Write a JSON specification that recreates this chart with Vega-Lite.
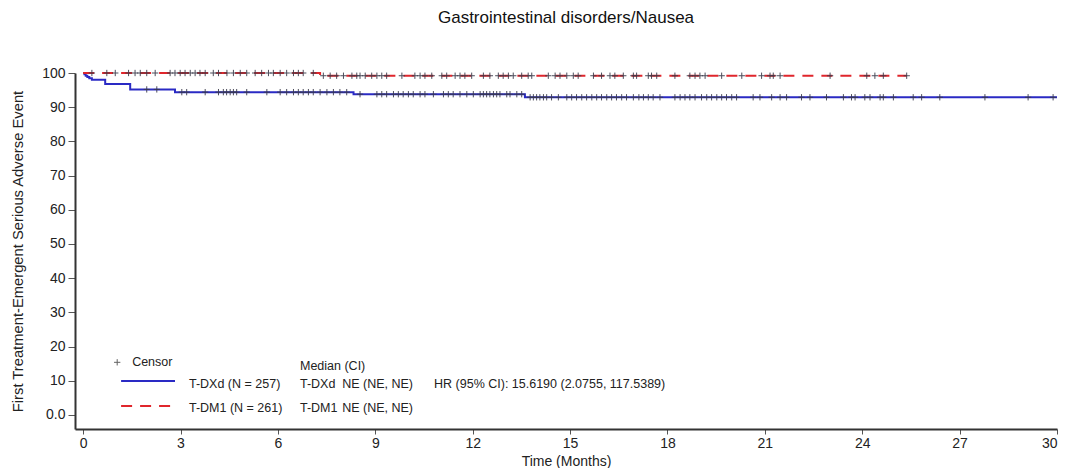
{
  "$schema": "https://vega.github.io/schema/vega-lite/v6.json",
  "autosize": {"type": "none"},
  "width": 982,
  "height": 356,
  "padding": {"left": 75, "top": 73, "right": 14, "bottom": 39},
  "background": "white",
  "config": {
    "font": "Liberation Sans",
    "view": {"stroke": null},
    "axis": {
      "grid": false,
      "domainColor": "#333333",
      "domainWidth": 2,
      "tickColor": "#555555",
      "labelColor": "#222222",
      "titleColor": "#222222",
      "labelFont": "Liberation Sans",
      "titleFont": "Liberation Sans",
      "labelFontSize": 14,
      "titleFontSize": 14,
      "titleFontWeight": "normal",
      "labelOverlap": false
    }
  },
  "title": {
    "text": "Gastrointestinal disorders/Nausea",
    "fontSize": 17,
    "fontWeight": "normal",
    "font": "Liberation Sans",
    "color": "#111111",
    "anchor": "middle",
    "frame": "group",
    "offset": 39
  },
  "datasets": {
    "curves": [
      {"arm": "T-DXd", "t": 0, "s": 100},
      {"arm": "T-DXd", "t": 0.04, "s": 99.61},
      {"arm": "T-DXd", "t": 0.08, "s": 99.22},
      {"arm": "T-DXd", "t": 0.13, "s": 98.83},
      {"arm": "T-DXd", "t": 0.19, "s": 98.44},
      {"arm": "T-DXd", "t": 0.27, "s": 98.05},
      {"arm": "T-DXd", "t": 0.68, "s": 96.8},
      {"arm": "T-DXd", "t": 1.45, "s": 95.2},
      {"arm": "T-DXd", "t": 2.83, "s": 94.4},
      {"arm": "T-DXd", "t": 8.33, "s": 93.8},
      {"arm": "T-DXd", "t": 13.61, "s": 92.9},
      {"arm": "T-DXd", "t": 30, "s": 92.9},
      {"arm": "T-DM1", "t": 0, "s": 100},
      {"arm": "T-DM1", "t": 7.3, "s": 99.2},
      {"arm": "T-DM1", "t": 25.37, "s": 99.2}
    ],
    "censors": [
      {"arm": "T-DXd", "t": 1.96, "s": 95.2}, {"arm": "T-DXd", "t": 2.27, "s": 95.2},
      {"arm": "T-DXd", "t": 3.04, "s": 94.4}, {"arm": "T-DXd", "t": 3.19, "s": 94.4},
      {"arm": "T-DXd", "t": 3.76, "s": 94.4}, {"arm": "T-DXd", "t": 4.17, "s": 94.4},
      {"arm": "T-DXd", "t": 4.32, "s": 94.4}, {"arm": "T-DXd", "t": 4.42, "s": 94.4},
      {"arm": "T-DXd", "t": 4.53, "s": 94.4}, {"arm": "T-DXd", "t": 4.63, "s": 94.4},
      {"arm": "T-DXd", "t": 4.73, "s": 94.4}, {"arm": "T-DXd", "t": 5.04, "s": 94.4},
      {"arm": "T-DXd", "t": 5.66, "s": 94.4}, {"arm": "T-DXd", "t": 6.07, "s": 94.4},
      {"arm": "T-DXd", "t": 6.27, "s": 94.4}, {"arm": "T-DXd", "t": 6.48, "s": 94.4},
      {"arm": "T-DXd", "t": 6.63, "s": 94.4}, {"arm": "T-DXd", "t": 6.78, "s": 94.4},
      {"arm": "T-DXd", "t": 6.94, "s": 94.4}, {"arm": "T-DXd", "t": 7.09, "s": 94.4},
      {"arm": "T-DXd", "t": 7.3, "s": 94.4}, {"arm": "T-DXd", "t": 7.51, "s": 94.4},
      {"arm": "T-DXd", "t": 7.71, "s": 94.4}, {"arm": "T-DXd", "t": 7.91, "s": 94.4},
      {"arm": "T-DXd", "t": 8.12, "s": 94.4},
      {"arm": "T-DXd", "t": 8.53, "s": 93.8}, {"arm": "T-DXd", "t": 9.05, "s": 93.8},
      {"arm": "T-DXd", "t": 9.2, "s": 93.8}, {"arm": "T-DXd", "t": 9.35, "s": 93.8},
      {"arm": "T-DXd", "t": 9.56, "s": 93.8}, {"arm": "T-DXd", "t": 9.71, "s": 93.8},
      {"arm": "T-DXd", "t": 9.86, "s": 93.8}, {"arm": "T-DXd", "t": 10.02, "s": 93.8},
      {"arm": "T-DXd", "t": 10.17, "s": 93.8}, {"arm": "T-DXd", "t": 10.38, "s": 93.8},
      {"arm": "T-DXd", "t": 10.53, "s": 93.8}, {"arm": "T-DXd", "t": 10.79, "s": 93.8},
      {"arm": "T-DXd", "t": 11.1, "s": 93.8}, {"arm": "T-DXd", "t": 11.25, "s": 93.8},
      {"arm": "T-DXd", "t": 11.4, "s": 93.8}, {"arm": "T-DXd", "t": 11.61, "s": 93.8},
      {"arm": "T-DXd", "t": 11.82, "s": 93.8}, {"arm": "T-DXd", "t": 12.02, "s": 93.8},
      {"arm": "T-DXd", "t": 12.23, "s": 93.8}, {"arm": "T-DXd", "t": 12.33, "s": 93.8},
      {"arm": "T-DXd", "t": 12.43, "s": 93.8}, {"arm": "T-DXd", "t": 12.53, "s": 93.8},
      {"arm": "T-DXd", "t": 12.64, "s": 93.8}, {"arm": "T-DXd", "t": 12.74, "s": 93.8},
      {"arm": "T-DXd", "t": 12.84, "s": 93.8}, {"arm": "T-DXd", "t": 13.05, "s": 93.8},
      {"arm": "T-DXd", "t": 13.15, "s": 93.8}, {"arm": "T-DXd", "t": 13.36, "s": 93.8},
      {"arm": "T-DXd", "t": 13.51, "s": 93.8},
      {"arm": "T-DXd", "t": 13.77, "s": 92.9}, {"arm": "T-DXd", "t": 13.87, "s": 92.9},
      {"arm": "T-DXd", "t": 13.97, "s": 92.9}, {"arm": "T-DXd", "t": 14.07, "s": 92.9},
      {"arm": "T-DXd", "t": 14.18, "s": 92.9}, {"arm": "T-DXd", "t": 14.28, "s": 92.9},
      {"arm": "T-DXd", "t": 14.43, "s": 92.9}, {"arm": "T-DXd", "t": 14.64, "s": 92.9},
      {"arm": "T-DXd", "t": 14.9, "s": 92.9}, {"arm": "T-DXd", "t": 15.05, "s": 92.9},
      {"arm": "T-DXd", "t": 15.2, "s": 92.9}, {"arm": "T-DXd", "t": 15.36, "s": 92.9},
      {"arm": "T-DXd", "t": 15.51, "s": 92.9}, {"arm": "T-DXd", "t": 15.67, "s": 92.9},
      {"arm": "T-DXd", "t": 15.82, "s": 92.9}, {"arm": "T-DXd", "t": 15.97, "s": 92.9},
      {"arm": "T-DXd", "t": 16.13, "s": 92.9}, {"arm": "T-DXd", "t": 16.28, "s": 92.9},
      {"arm": "T-DXd", "t": 16.43, "s": 92.9}, {"arm": "T-DXd", "t": 16.59, "s": 92.9},
      {"arm": "T-DXd", "t": 16.74, "s": 92.9}, {"arm": "T-DXd", "t": 16.95, "s": 92.9},
      {"arm": "T-DXd", "t": 17.12, "s": 92.9}, {"arm": "T-DXd", "t": 17.26, "s": 92.9},
      {"arm": "T-DXd", "t": 17.41, "s": 92.9}, {"arm": "T-DXd", "t": 17.56, "s": 92.9},
      {"arm": "T-DXd", "t": 17.77, "s": 92.9}, {"arm": "T-DXd", "t": 18.23, "s": 92.9},
      {"arm": "T-DXd", "t": 18.39, "s": 92.9}, {"arm": "T-DXd", "t": 18.54, "s": 92.9},
      {"arm": "T-DXd", "t": 18.69, "s": 92.9}, {"arm": "T-DXd", "t": 18.85, "s": 92.9},
      {"arm": "T-DXd", "t": 19.05, "s": 92.9}, {"arm": "T-DXd", "t": 19.21, "s": 92.9},
      {"arm": "T-DXd", "t": 19.36, "s": 92.9}, {"arm": "T-DXd", "t": 19.52, "s": 92.9},
      {"arm": "T-DXd", "t": 19.67, "s": 92.9}, {"arm": "T-DXd", "t": 19.82, "s": 92.9},
      {"arm": "T-DXd", "t": 19.98, "s": 92.9}, {"arm": "T-DXd", "t": 20.13, "s": 92.9},
      {"arm": "T-DXd", "t": 20.64, "s": 92.9}, {"arm": "T-DXd", "t": 20.85, "s": 92.9},
      {"arm": "T-DXd", "t": 21.21, "s": 92.9}, {"arm": "T-DXd", "t": 21.47, "s": 92.9},
      {"arm": "T-DXd", "t": 21.67, "s": 92.9}, {"arm": "T-DXd", "t": 22.13, "s": 92.9},
      {"arm": "T-DXd", "t": 22.39, "s": 92.9}, {"arm": "T-DXd", "t": 22.9, "s": 92.9},
      {"arm": "T-DXd", "t": 23.42, "s": 92.9}, {"arm": "T-DXd", "t": 23.67, "s": 92.9},
      {"arm": "T-DXd", "t": 23.78, "s": 92.9}, {"arm": "T-DXd", "t": 24.08, "s": 92.9},
      {"arm": "T-DXd", "t": 24.24, "s": 92.9}, {"arm": "T-DXd", "t": 24.55, "s": 92.9},
      {"arm": "T-DXd", "t": 24.65, "s": 92.9}, {"arm": "T-DXd", "t": 24.96, "s": 92.9},
      {"arm": "T-DXd", "t": 25.57, "s": 92.9}, {"arm": "T-DXd", "t": 25.83, "s": 92.9},
      {"arm": "T-DXd", "t": 26.39, "s": 92.9}, {"arm": "T-DXd", "t": 27.78, "s": 92.9},
      {"arm": "T-DXd", "t": 29.11, "s": 92.9}, {"arm": "T-DXd", "t": 29.88, "s": 92.9},
      {"arm": "T-DM1", "t": 0.27, "s": 100}, {"arm": "T-DM1", "t": 0.73, "s": 100},
      {"arm": "T-DM1", "t": 0.99, "s": 100}, {"arm": "T-DM1", "t": 1.4, "s": 100},
      {"arm": "T-DM1", "t": 1.6, "s": 100}, {"arm": "T-DM1", "t": 1.76, "s": 100},
      {"arm": "T-DM1", "t": 1.96, "s": 100}, {"arm": "T-DM1", "t": 2.22, "s": 100},
      {"arm": "T-DM1", "t": 2.68, "s": 100}, {"arm": "T-DM1", "t": 2.83, "s": 100},
      {"arm": "T-DM1", "t": 2.99, "s": 100}, {"arm": "T-DM1", "t": 3.14, "s": 100},
      {"arm": "T-DM1", "t": 3.3, "s": 100}, {"arm": "T-DM1", "t": 3.45, "s": 100},
      {"arm": "T-DM1", "t": 3.6, "s": 100}, {"arm": "T-DM1", "t": 3.76, "s": 100},
      {"arm": "T-DM1", "t": 4.01, "s": 100}, {"arm": "T-DM1", "t": 4.17, "s": 100},
      {"arm": "T-DM1", "t": 4.43, "s": 100}, {"arm": "T-DM1", "t": 4.63, "s": 100},
      {"arm": "T-DM1", "t": 4.84, "s": 100}, {"arm": "T-DM1", "t": 5.04, "s": 100},
      {"arm": "T-DM1", "t": 5.3, "s": 100}, {"arm": "T-DM1", "t": 5.5, "s": 100},
      {"arm": "T-DM1", "t": 5.71, "s": 100}, {"arm": "T-DM1", "t": 5.86, "s": 100},
      {"arm": "T-DM1", "t": 6.07, "s": 100}, {"arm": "T-DM1", "t": 6.27, "s": 100},
      {"arm": "T-DM1", "t": 6.48, "s": 100}, {"arm": "T-DM1", "t": 6.63, "s": 100},
      {"arm": "T-DM1", "t": 6.78, "s": 100}, {"arm": "T-DM1", "t": 7.09, "s": 100},
      {"arm": "T-DM1", "t": 7.4, "s": 99.2}, {"arm": "T-DM1", "t": 7.61, "s": 99.2},
      {"arm": "T-DM1", "t": 7.81, "s": 99.2}, {"arm": "T-DM1", "t": 8.02, "s": 99.2},
      {"arm": "T-DM1", "t": 8.28, "s": 99.2}, {"arm": "T-DM1", "t": 8.43, "s": 99.2},
      {"arm": "T-DM1", "t": 8.53, "s": 99.2}, {"arm": "T-DM1", "t": 8.69, "s": 99.2},
      {"arm": "T-DM1", "t": 8.89, "s": 99.2}, {"arm": "T-DM1", "t": 9.05, "s": 99.2},
      {"arm": "T-DM1", "t": 9.2, "s": 99.2}, {"arm": "T-DM1", "t": 9.35, "s": 99.2},
      {"arm": "T-DM1", "t": 9.82, "s": 99.2}, {"arm": "T-DM1", "t": 10.22, "s": 99.2},
      {"arm": "T-DM1", "t": 10.38, "s": 99.2}, {"arm": "T-DM1", "t": 10.53, "s": 99.2},
      {"arm": "T-DM1", "t": 10.74, "s": 99.2}, {"arm": "T-DM1", "t": 11.05, "s": 99.2},
      {"arm": "T-DM1", "t": 11.2, "s": 99.2}, {"arm": "T-DM1", "t": 11.46, "s": 99.2},
      {"arm": "T-DM1", "t": 11.61, "s": 99.2}, {"arm": "T-DM1", "t": 11.76, "s": 99.2},
      {"arm": "T-DM1", "t": 11.97, "s": 99.2}, {"arm": "T-DM1", "t": 12.33, "s": 99.2},
      {"arm": "T-DM1", "t": 12.53, "s": 99.2}, {"arm": "T-DM1", "t": 12.79, "s": 99.2},
      {"arm": "T-DM1", "t": 12.94, "s": 99.2}, {"arm": "T-DM1", "t": 13.1, "s": 99.2},
      {"arm": "T-DM1", "t": 13.25, "s": 99.2}, {"arm": "T-DM1", "t": 13.51, "s": 99.2},
      {"arm": "T-DM1", "t": 13.71, "s": 99.2}, {"arm": "T-DM1", "t": 13.82, "s": 99.2},
      {"arm": "T-DM1", "t": 14.33, "s": 99.2}, {"arm": "T-DM1", "t": 14.54, "s": 99.2},
      {"arm": "T-DM1", "t": 14.69, "s": 99.2}, {"arm": "T-DM1", "t": 14.9, "s": 99.2},
      {"arm": "T-DM1", "t": 15.1, "s": 99.2}, {"arm": "T-DM1", "t": 15.25, "s": 99.2},
      {"arm": "T-DM1", "t": 15.72, "s": 99.2}, {"arm": "T-DM1", "t": 15.97, "s": 99.2},
      {"arm": "T-DM1", "t": 16.23, "s": 99.2}, {"arm": "T-DM1", "t": 16.38, "s": 99.2},
      {"arm": "T-DM1", "t": 16.64, "s": 99.2}, {"arm": "T-DM1", "t": 16.95, "s": 99.2},
      {"arm": "T-DM1", "t": 17.05, "s": 99.2}, {"arm": "T-DM1", "t": 17.41, "s": 99.2},
      {"arm": "T-DM1", "t": 17.51, "s": 99.2}, {"arm": "T-DM1", "t": 17.67, "s": 99.2},
      {"arm": "T-DM1", "t": 18.23, "s": 99.2}, {"arm": "T-DM1", "t": 18.69, "s": 99.2},
      {"arm": "T-DM1", "t": 18.85, "s": 99.2}, {"arm": "T-DM1", "t": 19.0, "s": 99.2},
      {"arm": "T-DM1", "t": 19.16, "s": 99.2}, {"arm": "T-DM1", "t": 19.67, "s": 99.2},
      {"arm": "T-DM1", "t": 20.29, "s": 99.2}, {"arm": "T-DM1", "t": 20.9, "s": 99.2},
      {"arm": "T-DM1", "t": 21.16, "s": 99.2}, {"arm": "T-DM1", "t": 21.26, "s": 99.2},
      {"arm": "T-DM1", "t": 21.47, "s": 99.2}, {"arm": "T-DM1", "t": 23.01, "s": 99.2},
      {"arm": "T-DM1", "t": 24.14, "s": 99.2}, {"arm": "T-DM1", "t": 24.39, "s": 99.2},
      {"arm": "T-DM1", "t": 24.65, "s": 99.2}, {"arm": "T-DM1", "t": 25.37, "s": 99.2}
    ],
    "keyLines": [
      {"arm": "T-DXd", "t1": 1.17, "t2": 2.83, "s": 9.94},
      {"arm": "T-DM1", "t1": 1.17, "t2": 2.83, "s": 2.63}
    ],
    "keyCensor": [
      {"t": 1.05, "s": 15.4}
    ],
    "keyText": [
      {"t": 1.51, "s": 15.4, "label": "Censor"},
      {"t": 3.26, "s": 9.06, "label": "T-DXd (N = 257)"},
      {"t": 3.26, "s": 2.05, "label": "T-DM1 (N = 261)"},
      {"t": 6.68, "s": 14.3, "label": "Median (CI)"},
      {"t": 6.68, "s": 9.06, "label": "T-DXd"},
      {"t": 7.98, "s": 9.06, "label": "NE (NE, NE)"},
      {"t": 10.81, "s": 9.06, "label": "HR (95% CI): 15.6190 (2.0755, 117.5389)"},
      {"t": 6.68, "s": 2.05, "label": "T-DM1"},
      {"t": 7.98, "s": 2.05, "label": "NE (NE, NE)"}
    ]
  },
  "layer": [
    {
      "data": {"name": "curves"},
      "mark": {"type": "line", "interpolate": "step-after", "strokeWidth": 2},
      "encoding": {
        "x": {
          "field": "t", "type": "quantitative",
          "scale": {"domain": [-0.25, 30], "nice": false, "zero": false},
          "axis": {
            "title": "Time (Months)",
            "values": [0, 3, 6, 9, 12, 15, 18, 21, 24, 27, 30],
            "tickCount": 11,
            "tickSize": 5,
            "labelPadding": 2,
            "titlePadding": 4
          }
        },
        "y": {
          "field": "s", "type": "quantitative",
          "scale": {"domain": [-4.1, 100], "nice": false, "zero": false},
          "axis": {
            "title": "First Treatment-Emergent Serious Adverse Event",
            "titleFontSize": 14.75,
            "values": [0, 10, 20, 30, 40, 50, 60, 70, 80, 90, 100],
            "tickCount": 11,
            "labelOverlap": false,
            "labelExpr": "datum.value === 0 ? '0.0' : datum.label",
            "tickSize": 7,
            "labelPadding": 3,
            "titlePadding": 16
          }
        },
        "color": {
          "field": "arm", "type": "nominal",
          "scale": {"domain": ["T-DXd", "T-DM1"], "range": ["#2a2ac4", "#e0262c"]},
          "legend": null
        },
        "strokeDash": {
          "field": "arm", "type": "nominal",
          "scale": {"domain": ["T-DXd", "T-DM1"], "range": [[1, 0], [11, 8]]},
          "legend": null
        }
      }
    },
    {
      "data": {"name": "censors"},
      "mark": {
        "type": "point",
        "shape": "M-1,0H1M0,-1V1",
        "filled": false,
        "stroke": "#3a3a4a",
        "strokeWidth": 1,
        "size": 40,
        "opacity": 0.9
      },
      "encoding": {
        "x": {"field": "t", "type": "quantitative"},
        "y": {"field": "s", "type": "quantitative"}
      }
    },
    {
      "data": {"name": "keyLines"},
      "mark": {"type": "rule", "strokeWidth": 2},
      "encoding": {
        "x": {"field": "t1", "type": "quantitative"},
        "x2": {"field": "t2"},
        "y": {"field": "s", "type": "quantitative"},
        "color": {"field": "arm", "type": "nominal", "legend": null},
        "strokeDash": {"field": "arm", "type": "nominal", "legend": null}
      }
    },
    {
      "data": {"name": "keyCensor"},
      "mark": {
        "type": "point",
        "shape": "M-1,0H1M0,-1V1",
        "filled": false,
        "stroke": "#222222",
        "strokeWidth": 1,
        "size": 40
      },
      "encoding": {
        "x": {"field": "t", "type": "quantitative"},
        "y": {"field": "s", "type": "quantitative"}
      }
    },
    {
      "data": {"name": "keyText"},
      "mark": {
        "type": "text",
        "align": "left",
        "baseline": "middle",
        "fontSize": 12.5,
        "font": "Liberation Sans",
        "color": "#222222"
      },
      "encoding": {
        "x": {"field": "t", "type": "quantitative"},
        "y": {"field": "s", "type": "quantitative"},
        "text": {"field": "label"}
      }
    }
  ]
}
